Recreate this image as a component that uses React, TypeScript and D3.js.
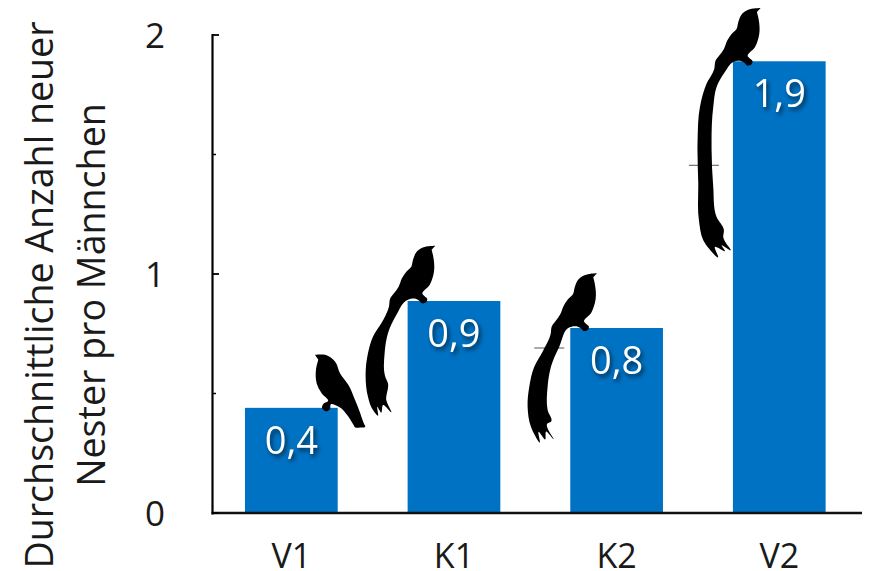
import React from "react";
import * as d3 from "d3";

const categories = ["V1", "K1", "K2", "V2"];
const means = [0.44, 0.887, 0.774, 1.89];
const valueLabels = ["0,4", "0,9", "0,8", "1,9"];
const majorTicks = [0, 1, 2];
const minorTicks = [0.5, 1.5];
const titleLines = ["Durchschnittliche Anzahl neuer", "Nester pro Männchen"];
const FONT = "'Open Sans', 'Noto Sans', sans-serif";

type P = [number, number];
// Bird silhouettes traced at 3x. Long-tailed birds share a body, relative to the beak tip.
const bodyBack: P[] = [[0,0],[-22,2],[-42,8],[-57,20],[-67,43],[-72,63],[-87,78],[-100,98],[-110,123],[-124,143],[-135,158],[-139,183]];
const bodyFront: P[] = [[-82,162],[-57,160],[-48,165],[-40,173],[-28,170],[-24,160],[-32,152],[-38,146],[-17,118],[-4,78],[-7,28],[-11,12]];

const birdShort: { o: P; pts: P[] } = {
  o: [15, 534],
  pts: [[225,375],[255,375],[285,395],[300,430],[325,465],[345,510],[360,548],[372,582],[376,591],[360,593],[346,593],[340,584],[325,560],[295,530],[272,524],[270,538],[256,544],[246,534],[252,520],[264,514],[245,490],[230,460],[228,420],[235,390]],
};
const longBird = (o: P, beak: P, tail: P[]) => ({
  o,
  pts: [
    ...bodyBack.map(([a, b]) => [beak[0] + a, beak[1] + b] as P),
    ...tail,
    ...bodyFront.map(([a, b]) => [beak[0] + a, beak[1] + b] as P),
  ],
});
const birdK1 = longBird([504, 213], [587, 47], [[425,280],[400,320],[385,370],[378,440],[385,500],[400,540],[415,557],[413,530],[425,548],[430,525],[455,547],[440,510],[445,460],[437,440],[435,370],[445,310],[470,255]]);
const birdK2 = longBird([153, 984], [233, 820], [[70,1055],[45,1100],[30,1160],[25,1220],[35,1280],[62,1327],[58,1295],[78,1318],[80,1295],[103,1318],[85,1270],[95,1265],[85,1230],[85,1160],[95,1100],[120,1040]]);
const birdV2 = longBird([639, 183], [722, 23], [[560,250],[540,320],[533,420],[535,550],[537,660],[550,720],[595,770],[585,740],[615,752],[605,735],[632,750],[610,710],[612,690],[590,650],[580,560],[575,450],[580,320],[590,260],[615,215]]);
const birds = [birdShort, birdK1, birdK2, birdV2];
// Stray grey dashes behind the two tails: offset from bar corner.
const dashes: ([number, number] | null)[] = [null, null, [-36, 20], [-44, 104]];

export default function App() {
  const y = d3.scaleLinear().domain([0, 2]).range([513, 35]);
  const x = d3.scaleBand<string>().domain(categories).range([210, 860.6]).paddingInner(0.43).paddingOuter(0.215);
  const bw = x.bandwidth();
  const line = d3.line().curve(d3.curveCatmullRom.alpha(1));
  return (
    <svg width={870} height={571} style={{ position: "absolute", left: 0, top: 0, background: "#fff" }} fontFamily={FONT}>
      {titleLines.map((t, i) => (
        <text key={t} transform={`translate(${[53, 105][i]},295) rotate(-90)`} textAnchor="middle" fontSize={37.6} fill="#1a1a1a">{t}</text>
      ))}
      {categories.map((c, i) => (
        <rect key={c} x={x(c)} y={y(means[i])} width={bw} height={y(0) - y(means[i])} fill="#0072c3" />
      ))}
      <line x1={212.5} x2={212.5} y1={y(2) - 1} y2={y(0) + 1.5} stroke="#000" strokeWidth={2.2} />
      <line x1={211.5} x2={862} y1={y(0)} y2={y(0)} stroke="#111" strokeWidth={2.4} />
      {majorTicks.map((t) => (
        <g key={t}>
          <line x1={212} x2={219} y1={y(t)} y2={y(t)} stroke="#000" strokeWidth={1.8} />
          <text x={155} y={y(t) + 12.5} textAnchor="middle" fontSize={35} fill="#1a1a1a">{t}</text>
        </g>
      ))}
      {minorTicks.map((t) => (
        <line key={t} x1={212} x2={216} y1={y(t)} y2={y(t)} stroke="#000" strokeWidth={1.5} />
      ))}
      {categories.map((c, i) => {
        const b = birds[i];
        const ox = x(c)!, oy = y(means[i]);
        const pts = b.pts.map(([px, py]) => [ox + (px - b.o[0]) / 3, oy + (py - b.o[1]) / 3] as [number, number]);
        const d = dashes[i];
        return (
          <g key={c}>
            {d && <line x1={ox + d[0]} x2={ox + d[0] + 30} y1={oy + d[1]} y2={oy + d[1]} stroke="#555" strokeWidth={1} />}
            <path d={line(pts) + "Z"} fill="#000" />
          </g>
        );
      })}
      {categories.map((c, i) => (
        <text key={c} x={x(c)! + bw / 2} y={y(means[i]) + 46} textAnchor="middle" fontSize={38} fill="#fff"
          style={{ filter: "drop-shadow(2px 3px 2px rgba(0,0,0,0.6))" }}>{valueLabels[i]}</text>
      ))}
      {categories.map((c) => (
        <text key={c} x={x(c)! + bw / 2} y={568} textAnchor="middle" fontSize={34} fill="#1a1a1a">{c}</text>
      ))}
    </svg>
  );
}
